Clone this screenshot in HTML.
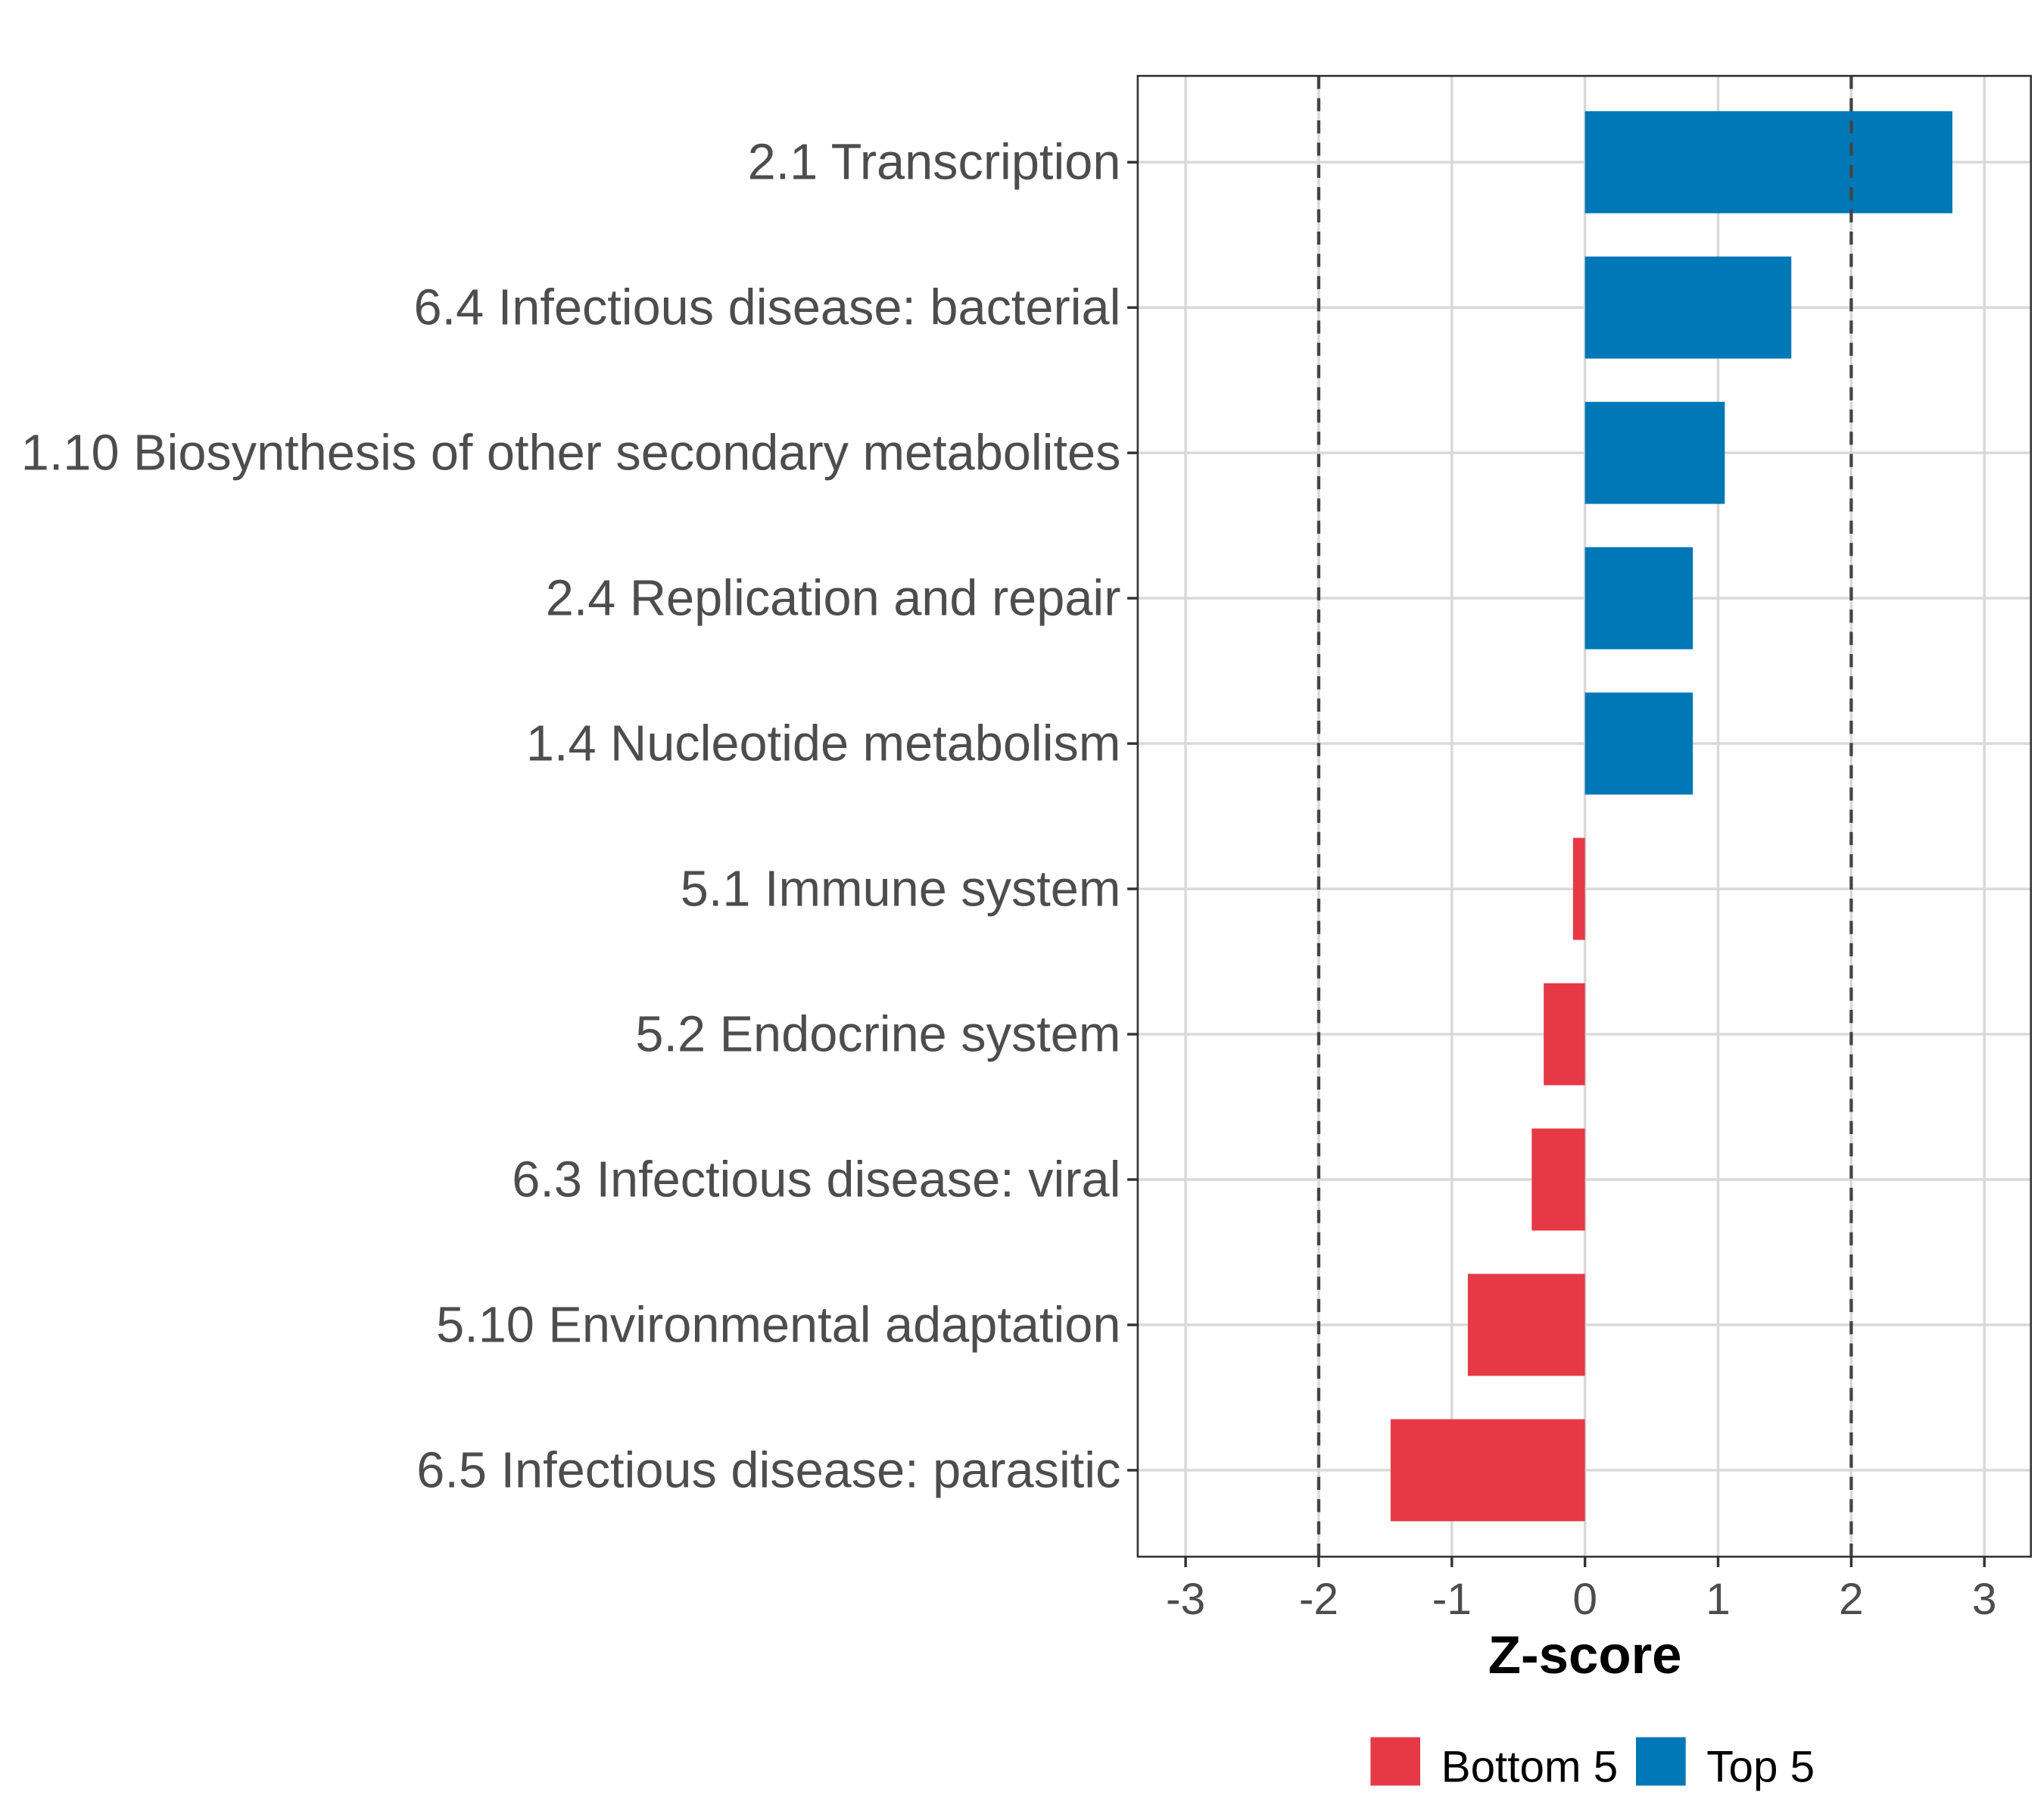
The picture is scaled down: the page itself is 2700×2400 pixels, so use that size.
<!DOCTYPE html>
<html><head><meta charset="utf-8"><style>
html,body{margin:0;padding:0;background:#fff;}
svg{display:block;}
text{font-family:"Liberation Sans",sans-serif;}
</style></head><body>
<svg id="chart" width="2700" height="2400" viewBox="0 0 1563 1389" preserveAspectRatio="none" xmlns="http://www.w3.org/2000/svg">
<rect x="0" y="0" width="1563" height="1389" fill="#fff"/>
<g id="grid"></g>
<g id="bars"></g>
<g id="refs"></g>
<rect x="870" y="58" width="683" height="1132" fill="none" stroke="#333" stroke-width="1.5"/>
<g id="yaxis"></g>
<g id="xaxis"></g>
<text x="1212" y="1279" text-anchor="middle" font-size="41" font-weight="bold" fill="#000">Z-score</text>
<g>
<rect x="1048" y="1328" width="38" height="37" fill="#E63946"/>
<text x="1102" y="1362" font-size="33.8" fill="#000">Bottom 5</text>
<rect x="1251" y="1328" width="38" height="37" fill="#0077B6"/>
<text x="1305" y="1362" font-size="33.8" fill="#000">Top 5</text>
</g>
</svg>
<script>
const categories = ["2.1 Transcription","6.4 Infectious disease: bacterial","1.10 Biosynthesis of other secondary metabolites","2.4 Replication and repair","1.4 Nucleotide metabolism","5.1 Immune system","5.2 Endocrine system","6.3 Infectious disease: viral","5.10 Environmental adaptation","6.5 Infectious disease: parasitic"];
const values = [2.76, 1.55, 1.05, 0.81, 0.81, -0.09, -0.31, -0.40, -0.88, -1.46];
const groups = ["Top 5","Top 5","Top 5","Top 5","Top 5","Bottom 5","Bottom 5","Bottom 5","Bottom 5","Bottom 5"];
const xTicks = [-3,-2,-1,0,1,2,3];
const xTickLabels = ["-3","-2","-1","0","1","2","3"];
const refLines = [-2, 2];

const NS = "http://www.w3.org/2000/svg";
const X0 = 1212, XU = 101.8;
function xs(v){ return X0 + v*XU; }
const Y0 = 124, YSTEP = 111.1, BH = 78;
function ys(i){ return Y0 + i*YSTEP; }
const colors = {"Top 5":"#0077B6","Bottom 5":"#E63946"};
function mk(tag, attrs, parent){ const e=document.createElementNS(NS,tag); for(const k in attrs) e.setAttribute(k,attrs[k]); parent.appendChild(e); return e; }

const grid=document.getElementById('grid'), bars=document.getElementById('bars'), refs=document.getElementById('refs'), yaxis=document.getElementById('yaxis'), xaxis=document.getElementById('xaxis');

xTicks.forEach((t,i)=>{
  const g = mk('line',{x1:xs(t),x2:xs(t),y1:58,y2:1190,stroke:'#d9d9d9','stroke-width':2},grid);
  
  
  const tk = mk('line',{x1:xs(t),x2:xs(t),y1:1190,y2:1198,stroke:'#333','stroke-width':2},xaxis);
  
  
  const lb = mk('text',{x:xs(t),y:1234,'text-anchor':'middle','font-size':34,fill:'#4d4d4d'},xaxis);
  lb.textContent = xTickLabels[i];
  
  
});
categories.forEach((c,i)=>{
  const y=ys(i);
  const g = mk('line',{x1:870,x2:1553,y1:y,y2:y,stroke:'#d9d9d9','stroke-width':2},grid);
  
  
  const v=values[i];
  const b = mk('rect',{x:Math.min(xs(0),xs(v)),y:y-BH/2,width:Math.abs(xs(v)-xs(0)),height:BH,fill:colors[groups[i]]},bars);
  
  
  const tk = mk('line',{x1:862,x2:870,y1:y,y2:y,stroke:'#333','stroke-width':2},yaxis);
  
  
  const lb = mk('text',{x:857,y:y+13,'text-anchor':'end','font-size':38.6,fill:'#4d4d4d'},yaxis);
  lb.textContent=c;
  
  
});
refLines.forEach(r=>{
  const l = mk('line',{x1:xs(r),x2:xs(r),y1:58,y2:1190,stroke:'#444','stroke-width':2.5,'stroke-dasharray':'10,7'},refs);
  
  
});
</script>
</body></html>
